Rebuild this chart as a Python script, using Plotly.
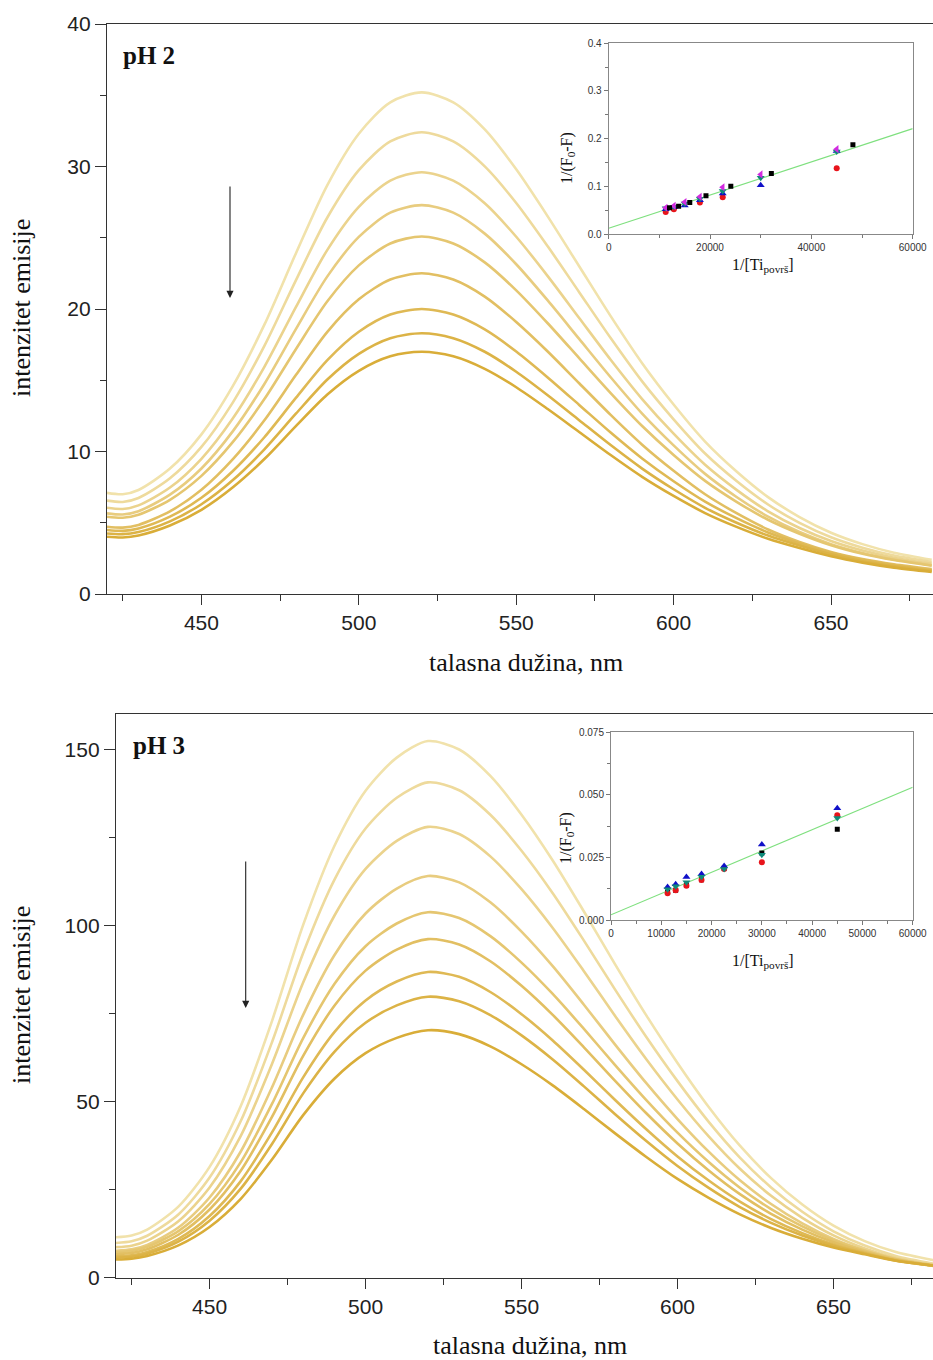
import plotly.graph_objects as go

# ---------------- data ----------------
wavelength = [420, 425, 430, 440, 450, 460, 470, 480, 490, 500, 510, 520, 530, 540,
              550, 560, 570, 580, 590, 600, 610, 620, 630, 640, 650, 660, 670, 682]

# pH 2 emission spectra (lightest -> darkest)
ph2_c1 = [7.1, 7.0, 7.3, 8.8, 11.2, 14.6, 18.9, 23.9, 28.7, 32.3, 34.5, 35.2, 34.5, 32.6, 29.8, 26.5, 23.0, 19.5, 16.2, 13.3, 10.7, 8.6, 6.8, 5.4, 4.3, 3.5, 2.9, 2.4]
ph2_c2 = [6.55, 6.46, 6.74, 8.12, 10.32, 13.45, 17.41, 22.01, 26.42, 29.74, 31.76, 32.40, 31.76, 30.01, 27.44, 24.40, 21.18, 17.96, 14.92, 12.26, 9.86, 7.93, 6.28, 4.99, 3.98, 3.25, 2.7, 2.25]
ph2_c3 = [6.05, 5.97, 6.22, 7.47, 9.49, 12.33, 15.94, 20.13, 24.15, 27.17, 29.01, 29.60, 29.01, 27.42, 25.07, 22.31, 19.37, 16.44, 13.68, 11.25, 9.07, 7.31, 5.80, 4.63, 3.72, 3.05, 2.55, 2.12]
ph2_c4 = [5.66, 5.58, 5.81, 6.97, 8.81, 11.43, 14.74, 18.59, 22.29, 25.06, 26.76, 27.29, 26.76, 25.29, 23.14, 20.60, 17.90, 15.21, 12.66, 10.43, 8.43, 6.81, 5.43, 4.35, 3.5, 2.88, 2.42, 2.02]
ph2_c5 = [5.42, 5.35, 5.56, 6.61, 8.29, 10.67, 13.68, 17.18, 20.54, 23.06, 24.60, 25.09, 24.60, 23.27, 21.31, 19.0, 16.55, 14.10, 11.79, 9.76, 7.94, 6.47, 5.21, 4.23, 3.42, 2.82, 2.38, 1.98]
ph2_c6 = [4.72, 4.66, 4.85, 5.80, 7.32, 9.47, 12.19, 15.36, 18.40, 20.68, 22.07, 22.51, 22.07, 20.87, 19.09, 17.02, 14.79, 12.57, 10.48, 8.65, 7.0, 5.67, 4.53, 3.65, 2.95, 2.45, 2.08, 1.75]
ph2_c7 = [4.49, 4.43, 4.60, 5.43, 6.75, 8.63, 11.0, 13.76, 16.41, 18.40, 19.61, 20.0, 19.61, 18.57, 17.02, 15.20, 13.27, 11.33, 9.51, 7.91, 6.48, 5.32, 4.32, 3.55, 2.9, 2.4, 2.02, 1.68]
ph2_c8 = [4.25, 4.2, 4.35, 5.1, 6.3, 8.0, 10.15, 12.65, 15.05, 16.85, 17.95, 18.3, 17.95, 17.0, 15.6, 13.95, 12.2, 10.45, 8.8, 7.35, 6.05, 5.0, 4.1, 3.4, 2.78, 2.3, 1.95, 1.62]
ph2_c9 = [4.02, 3.97, 4.11, 4.81, 5.91, 7.49, 9.47, 11.78, 14.0, 15.66, 16.68, 17.0, 16.68, 15.8, 14.51, 12.98, 11.37, 9.75, 8.22, 6.88, 5.68, 4.71, 3.88, 3.23, 2.65, 2.2, 1.85, 1.55]

# pH 3 emission spectra (lightest -> darkest)
ph3_c1 = [11.5, 12.0, 13.7, 20.2, 31.5, 48.8, 72.9, 100.2, 122.6, 138.3, 147.7, 152.4, 150.0, 142.5, 131.5, 118.5, 104.0, 89.0, 74.5, 61.0, 48.5, 37.5, 28.3, 20.8, 14.8, 10.4, 7.3, 5.0]
ph3_c2 = [9.9, 10.37, 11.94, 17.98, 28.46, 44.52, 66.88, 92.22, 113.0, 127.57, 136.3, 140.66, 138.43, 131.47, 121.26, 109.2, 95.74, 81.82, 68.37, 55.84, 44.29, 34.14, 25.65, 18.74, 13.21, 9.15, 6.21, 4.04]
ph3_c3 = [8.7, 9.12, 10.56, 16.07, 25.64, 40.29, 60.71, 83.83, 102.8, 116.1, 124.06, 128.04, 126.01, 119.66, 110.34, 99.33, 87.05, 74.34, 62.06, 50.63, 40.15, 30.95, 23.27, 17.03, 12.04, 8.34, 5.59, 3.57]
ph3_c4 = [7.7, 8.08, 9.36, 14.27, 22.8, 35.86, 54.06, 74.67, 91.58, 103.44, 110.53, 114.08, 112.27, 106.61, 98.3, 88.49, 77.54, 66.22, 55.27, 45.08, 35.82, 27.69, 20.94, 15.45, 11.05, 7.78, 5.26, 3.39]
ph3_c5 = [7.3, 7.64, 8.8, 13.26, 21.0, 32.85, 49.36, 68.06, 83.4, 94.16, 100.6, 103.81, 102.17, 97.03, 89.5, 80.59, 70.66, 60.39, 50.45, 41.2, 32.87, 25.58, 19.51, 14.61, 10.67, 7.71, 5.36, 3.61]
ph3_c6 = [6.7, 7.02, 8.1, 12.23, 19.4, 30.39, 45.69, 63.03, 77.25, 87.22, 93.19, 96.17, 94.65, 89.89, 82.9, 74.65, 65.44, 55.92, 46.71, 38.14, 30.47, 23.75, 18.18, 13.69, 10.09, 7.36, 5.12, 3.46]
ph3_c7 = [6.09, 6.38, 7.35, 11.07, 17.55, 27.46, 41.27, 56.91, 69.75, 78.75, 84.13, 86.83, 85.45, 81.15, 74.85, 67.4, 59.09, 50.5, 42.19, 34.45, 27.61, 21.63, 16.67, 12.69, 9.49, 7.05, 4.95, 3.4]
ph3_c8 = [5.7, 5.96, 6.86, 10.28, 16.22, 25.32, 37.99, 52.36, 64.14, 72.4, 77.34, 79.81, 78.55, 74.61, 68.82, 61.98, 54.35, 46.46, 38.84, 31.74, 25.51, 20.08, 15.6, 12.0, 9.1, 6.88, 4.9, 3.43]
ph3_c9 = [5.2, 5.43, 6.22, 9.22, 14.44, 22.44, 33.57, 46.18, 56.53, 63.78, 68.13, 70.3, 69.19, 65.73, 60.64, 54.64, 47.94, 41.01, 34.31, 28.07, 22.7, 18.02, 14.16, 11.1, 8.63, 6.69, 4.86, 3.5]

# Inset pH 2: 1/(F0-F) vs 1/[Ti]
ins2_x = [11250, 12860, 15000, 18000, 22500, 30000, 45000]
ins2_black_x = [12000, 13800, 16000, 19200, 24100, 32100, 48200]
ins2_black_y = [0.055, 0.058, 0.066, 0.080, 0.100, 0.127, 0.187]
ins2_red_x = [11250, 12860, 18000, 22500, 45000]
ins2_red_y = [0.046, 0.052, 0.066, 0.077, 0.138]
ins2_blue_y = [0.052, 0.056, 0.060, 0.071, 0.085, 0.102, 0.174]
ins2_teal_y = [0.054, 0.057, 0.064, 0.074, 0.090, 0.118, 0.173]
ins2_magenta_y = [0.055, 0.059, 0.067, 0.078, 0.098, 0.125, 0.178]
ins2_fit_x = [0, 60000]
ins2_fit_y = [0.012, 0.221]

# Inset pH 3
ins3_x = [11250, 12860, 15000, 18000, 22500, 30000, 45000]
ins3_blue_y = [0.0133, 0.0144, 0.0173, 0.0185, 0.0217, 0.0302, 0.0447]
ins3_red_y = [0.0108, 0.0120, 0.0138, 0.0161, 0.0205, 0.0232, 0.0419]
ins3_black_y = [0.0112, 0.0120, 0.0140, 0.0162, 0.0208, 0.0268, 0.0363]
ins3_teal_y = [0.0124, 0.0136, 0.0152, 0.0174, 0.0205, 0.0262, 0.0408]
ins3_fit_x = [0, 60000]
ins3_fit_y = [0.0022, 0.0531]

curve_colors = ["#F1E2AB", "#EEDA9C", "#EBD38D", "#E8CC7F", "#E5C670",
                "#E2BF62", "#DFB954", "#DCB346", "#D9AD38"]

W, H = 933, 1360
SANS = "Liberation Sans, Arial, sans-serif"
SERIF = "Liberation Serif, Times New Roman, serif"


def fx(x):
    return x / W


def fy(y):
    return 1 - y / H


fig = go.Figure()

ph2 = [ph2_c1, ph2_c2, ph2_c3, ph2_c4, ph2_c5, ph2_c6, ph2_c7, ph2_c8, ph2_c9]
ph3 = [ph3_c1, ph3_c2, ph3_c3, ph3_c4, ph3_c5, ph3_c6, ph3_c7, ph3_c8, ph3_c9]

for i, ys in enumerate(ph2):
    fig.add_trace(go.Scatter(x=wavelength, y=ys, mode="lines", xaxis="x", yaxis="y",
                             line=dict(color=curve_colors[i], width=2.6, shape="spline", smoothing=0.8),
                             showlegend=False, hoverinfo="skip"))
for i, ys in enumerate(ph3):
    fig.add_trace(go.Scatter(x=wavelength, y=ys, mode="lines", xaxis="x2", yaxis="y2",
                             line=dict(color=curve_colors[i], width=2.6, shape="spline", smoothing=0.8),
                             showlegend=False, hoverinfo="skip"))

# inset pH 2
fig.add_trace(go.Scatter(x=ins2_fit_x, y=ins2_fit_y, mode="lines", xaxis="x3", yaxis="y3",
                         line=dict(color="#7FE07F", width=1.2), showlegend=False))
mk = 6
fig.add_trace(go.Scatter(x=ins2_red_x, y=ins2_red_y, mode="markers", xaxis="x3", yaxis="y3",
                         marker=dict(symbol="circle", color="#E8141B", size=mk), showlegend=False))
fig.add_trace(go.Scatter(x=ins2_x, y=ins2_blue_y, mode="markers", xaxis="x3", yaxis="y3",
                         marker=dict(symbol="triangle-up", color="#1010C8", size=mk + 1), showlegend=False))
fig.add_trace(go.Scatter(x=ins2_x, y=ins2_teal_y, mode="markers", xaxis="x3", yaxis="y3",
                         marker=dict(symbol="triangle-down", color="#0F8A7A", size=mk + 1), showlegend=False))
fig.add_trace(go.Scatter(x=ins2_x, y=ins2_magenta_y, mode="markers", xaxis="x3", yaxis="y3",
                         marker=dict(symbol="triangle-left", color="#D22BE0", size=mk + 1), showlegend=False))
fig.add_trace(go.Scatter(x=ins2_black_x, y=ins2_black_y, mode="markers", xaxis="x3", yaxis="y3",
                         marker=dict(symbol="square", color="#000000", size=mk - 1), showlegend=False))

# inset pH 3
fig.add_trace(go.Scatter(x=ins3_fit_x, y=ins3_fit_y, mode="lines", xaxis="x4", yaxis="y4",
                         line=dict(color="#7FE07F", width=1.2), showlegend=False))
fig.add_trace(go.Scatter(x=ins3_x, y=ins3_black_y, mode="markers", xaxis="x4", yaxis="y4",
                         marker=dict(symbol="square", color="#000000", size=mk - 1), showlegend=False))
fig.add_trace(go.Scatter(x=ins3_x, y=ins3_red_y, mode="markers", xaxis="x4", yaxis="y4",
                         marker=dict(symbol="circle", color="#E8141B", size=mk), showlegend=False))
fig.add_trace(go.Scatter(x=ins3_x, y=ins3_blue_y, mode="markers", xaxis="x4", yaxis="y4",
                         marker=dict(symbol="triangle-up", color="#1010C8", size=mk + 1), showlegend=False))
fig.add_trace(go.Scatter(x=ins3_x, y=ins3_teal_y, mode="markers", xaxis="x4", yaxis="y4",
                         marker=dict(symbol="triangle-down", color="#0F8A7A", size=mk + 1), showlegend=False))

AX = "#333333"


def main_x(domain, rng, anchor):
    return dict(domain=domain, range=rng, anchor=anchor, automargin=False,
                tickvals=[450, 500, 550, 600, 650],
                ticks="outside", ticklen=10, tickwidth=1.3, tickcolor=AX,
                showline=True, linecolor=AX, linewidth=1.3, mirror=True,
                showgrid=False, zeroline=False,
                tickfont=dict(family=SANS, size=21, color="#222"),
                minor=dict(tickvals=[425, 475, 525, 575, 625, 675], ticks="outside",
                           ticklen=6, tickwidth=1.3, tickcolor=AX, showgrid=False))


def main_y(domain, rng, dtick, anchor):
    return dict(domain=domain, range=rng, dtick=dtick, anchor=anchor, automargin=False,
                ticks="outside", ticklen=11, tickwidth=1.3, tickcolor=AX,
                showline=True, linecolor=AX, linewidth=1.3, mirror=False,
                showgrid=False, zeroline=False,
                tickfont=dict(family=SANS, size=21, color="#222"),
                minor=dict(dtick=dtick / 2, ticks="outside", ticklen=6, tickwidth=1.3,
                           tickcolor=AX, showgrid=False))


def inset_x(domain, dtick, minor_dtick, anchor):
    return dict(domain=domain, range=[0, 60000], dtick=dtick, anchor=anchor, automargin=False,
                tickformat="d",
                ticks="outside", ticklen=4, tickwidth=1, tickcolor="#777",
                showline=True, linecolor="#888", linewidth=1, mirror=True,
                showgrid=False, zeroline=False,
                tickfont=dict(family=SANS, size=10, color="#333"),
                minor=dict(dtick=minor_dtick, ticks="outside", ticklen=3, tickwidth=1,
                           tickcolor="#777", showgrid=False))


def inset_y(domain, rng, dtick, fmt, anchor):
    return dict(domain=domain, range=rng, dtick=dtick, tickformat=fmt, anchor=anchor,
                automargin=False,
                ticks="outside", ticklen=4, tickwidth=1, tickcolor="#777",
                showline=True, linecolor="#888", linewidth=1, mirror=True,
                showgrid=False, zeroline=False,
                tickfont=dict(family=SANS, size=10, color="#333"),
                minor=dict(dtick=dtick / 2, ticks="outside", ticklen=3, tickwidth=1,
                           tickcolor="#777", showgrid=False))


fig.update_layout(
    width=W, height=H,
    margin=dict(l=0, r=0, t=0, b=0, autoexpand=False),
    paper_bgcolor="white", plot_bgcolor="white",
    showlegend=False,
    xaxis=main_x([fx(107), 1.0], [420, 682.4], "y"),
    yaxis=main_y([fy(594), fy(24)], [0, 40], 10, "x"),
    xaxis2=main_x([fx(116), 1.0], [420, 681.9], "y2"),
    yaxis2=main_y([fy(1277.8), fy(714.3)], [0, 160], 50, "x2"),
    xaxis3=inset_x([fx(608.7), fx(912.7)], 20000, 10000, "y3"),
    yaxis3=inset_y([fy(234), fy(43.3)], [0, 0.4], 0.1, ".1f", "x3"),
    xaxis4=inset_x([fx(611), fx(912.7)], 10000, 5000, "y4"),
    yaxis4=inset_y([fy(920.3), fy(732.3)], [0, 0.075], 0.025, ".3f", "x4"),
)

annots = []


def label(text, x, y, size, family=SERIF, angle=0, bold=False, xanchor="center"):
    annots.append(dict(text=f"<b>{text}</b>" if bold else text, x=fx(x), y=fy(y),
                       xref="paper", yref="paper", showarrow=False, textangle=angle,
                       xanchor=xanchor, yanchor="middle",
                       font=dict(family=family, size=size, color="#111")))


label("intenzitet emisije", 22, 308, 26, angle=-90)
label("intenzitet emisije", 22, 995, 26, angle=-90)
label("talasna dužina, nm", 526, 662, 26)
label("talasna dužina, nm", 530, 1345, 26)
label("pH 2", 121, 56, 25, bold=True, xanchor="left")
label("pH 3", 131, 745, 25, bold=True, xanchor="left")
label("1/(F<sub>0</sub>-F)", 567, 158, 16, angle=-90)
label("1/[Ti<sub>površ</sub>]", 763, 266, 16)
label("1/(F<sub>0</sub>-F)", 566, 838, 16, angle=-90)
label("1/[Ti<sub>površ</sub>]", 763, 961, 16)

for (x0, y0, y1) in [(230, 185, 298), (245.7, 860, 1008)]:
    annots.append(dict(x=fx(x0), y=fy(y1), xref="paper", yref="paper", ax=0, ay=-(y1 - y0),
                       axref="pixel", ayref="pixel", showarrow=True, arrowhead=2,
                       arrowsize=1.3, arrowwidth=1.1, arrowcolor="#222", text=""))

fig.update_layout(annotations=annots)

# remove the default page margin so the 933x1360 figure fills the window exactly
fig.write_html(
    "out.html",
    config={"displayModeBar": False},
    post_script="document.documentElement.style.margin='0';"
                "document.body.style.margin='0';"
                "document.documentElement.style.overflow='hidden';"
                "document.body.style.overflow='hidden';",
)
